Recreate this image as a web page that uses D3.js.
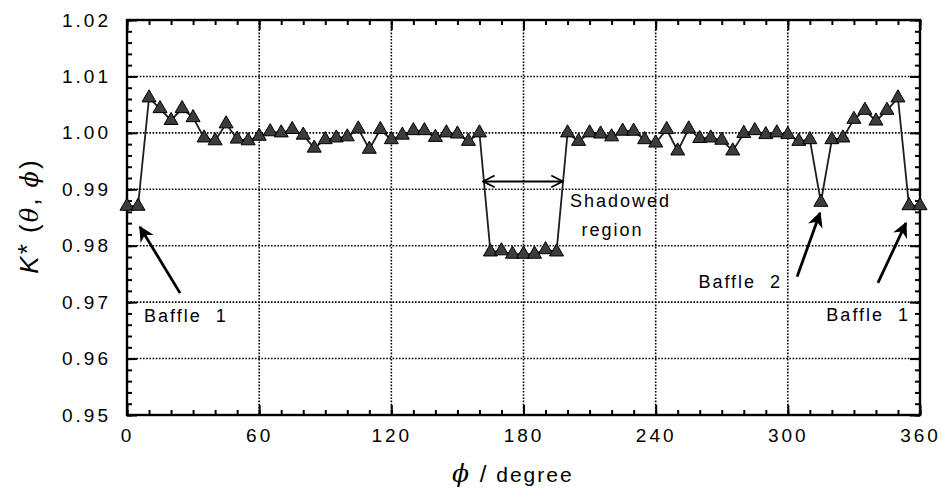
<!DOCTYPE html>
<html>
<head>
<meta charset="utf-8">
<script src="https://cdn.jsdelivr.net/npm/d3@7"></script>
<style>
  body { margin: 0; background: #fff; }
  svg { display: block; }
  text { font-family: "Liberation Sans", Arial, sans-serif; fill: #000; }
</style>
</head>
<body>
<div id="plot"></div>
<script>
// phi in degrees, measured every 5 degrees
var phi = d3.range(0, 361, 5);

// K*(theta, phi)
var kStar = [0.9870, 0.9870, 1.0062, 1.0043, 1.0022, 1.0043, 1.0027, 0.9991, 0.9986, 1.0016,
  0.9989, 0.9986, 0.9994, 1.0002, 1.0000, 1.0006, 0.9996, 0.9973, 0.9988, 0.9991,
  0.9993, 1.0007, 0.9971, 1.0006, 0.9988, 0.9996, 1.0004, 1.0004, 0.9992, 1.0000,
  0.9998, 0.9985, 1.0000, 0.9789, 0.9791, 0.9785, 0.9785, 0.9785, 0.9793, 0.9789,
  1.0000, 0.9985, 1.0000, 0.9998, 0.9993, 1.0003, 1.0003, 0.9988, 0.9982, 1.0006,
  0.9968, 1.0007, 0.9990, 0.9991, 0.9987, 0.9968, 0.9999, 1.0004, 0.9997, 1.0000,
  0.9997, 0.9985, 0.9988, 0.9877, 0.9988, 0.9991, 1.0024, 1.0040, 1.0021, 1.0040,
  1.0062, 0.9871, 0.9871];

var xTicks = [0, 60, 120, 180, 240, 300, 360];
var yTicks = [0.95, 0.96, 0.97, 0.98, 0.99, 1.00, 1.01, 1.02];
var xMinor = d3.range(0, 361, 10);
var yMinor = d3.range(0, 36).map(function(i) { return 0.95 + i * 0.002; });

// annotations in data units: [phi, value]
var arrows = [
  {from: [24.1, 0.9716], to: [5.9, 0.9833]},
  {from: [304.2, 0.9745], to: [314.6, 0.9858]},
  {from: [340.9, 0.9734], to: [353.6, 0.9840]}
];
var labels = [
  {text: "Baffle  1", at: [7.7, 0.9665], anchor: "start"},
  {text: "Baffle  2", at: [297.4, 0.9725], anchor: "end"},
  {text: "Baffle  1", at: [355.5, 0.9667], anchor: "end"},
  {text: "Shadowed", at: [201.1, 0.9869], anchor: "start"},
  {text: "region", at: [220.4, 0.9817], anchor: "middle"}
];
var shadowSpan = [161.6, 197.9, 0.9914];

var W = 941, H = 491;
var margin = {top: 20, right: 21, bottom: 76, left: 127},
    width = W - margin.left - margin.right,
    height = H - margin.top - margin.bottom;

var svg = d3.select("div#plot")
  .append("svg")
    .attr("width", W)
    .attr("height", H);

var defs = svg.append("defs");
defs.append("marker")
    .attr("id", "head")
    .attr("viewBox", "0 0 10 10")
    .attr("refX", 9).attr("refY", 5)
    .attr("markerWidth", 5.5).attr("markerHeight", 5.5)
    .attr("markerUnits", "strokeWidth")
    .attr("orient", "auto")
  .append("path")
    .attr("d", "M0,0 L10,5 L0,10 L3,5 Z")
    .attr("fill", "#000");
defs.append("marker")
    .attr("id", "open")
    .attr("viewBox", "0 0 12 12")
    .attr("refX", 11).attr("refY", 6)
    .attr("markerWidth", 7).attr("markerHeight", 7)
    .attr("markerUnits", "strokeWidth")
    .attr("orient", "auto-start-reverse")
  .append("path")
    .attr("d", "M1,1 L11,6 L1,11")
    .attr("fill", "none")
    .attr("stroke", "#000")
    .attr("stroke-width", 1.5);

var x = d3.scaleLinear().domain([0, 360]).range([margin.left, margin.left + width]);
var y = d3.scaleLinear().domain([0.95, 1.02]).range([margin.top + height, margin.top]);

// dotted grid
var grid = svg.append("g").attr("stroke", "#000").attr("stroke-width", 1.6)
  .attr("stroke-dasharray", "1.6,1.6");
grid.selectAll(".gx").data(xTicks.slice(1, -1)).enter().append("line")
  .attr("x1", function(d) { return x(d); }).attr("x2", function(d) { return x(d); })
  .attr("y1", y(0.95)).attr("y2", y(1.02));
grid.selectAll(".gy").data(yTicks.slice(1, -1)).enter().append("line")
  .attr("x1", x(0)).attr("x2", x(360))
  .attr("y1", function(d) { return y(d); }).attr("y2", function(d) { return y(d); });

// axes, ticks pointing inward
function styleAxis(g) {
  g.select(".domain").remove();
  g.selectAll(".tick line").attr("stroke", "#000").attr("stroke-width", 2);
  g.selectAll(".tick text")
    .style("font-size", "19px")
    .style("letter-spacing", "3px");
}

svg.append("g").attr("transform", "translate(0," + y(0.95) + ")")
  .call(d3.axisBottom(x).tickValues(xMinor).tickSize(-5).tickFormat(""))
  .call(styleAxis);
svg.append("g").attr("transform", "translate(0," + y(0.95) + ")")
  .call(d3.axisBottom(x).tickValues(xTicks).tickSize(-10).tickPadding(14).tickFormat(d3.format("d")))
  .call(styleAxis);
svg.append("g").attr("transform", "translate(0," + y(1.02) + ")")
  .call(d3.axisTop(x).tickValues(xMinor).tickSize(-5).tickFormat(""))
  .call(styleAxis);
svg.append("g").attr("transform", "translate(0," + y(1.02) + ")")
  .call(d3.axisTop(x).tickValues(xTicks).tickSize(-10).tickFormat(""))
  .call(styleAxis);

svg.append("g").attr("transform", "translate(" + x(0) + ",0)")
  .call(d3.axisLeft(y).tickValues(yMinor).tickSize(-5).tickFormat(""))
  .call(styleAxis);
svg.append("g").attr("transform", "translate(" + x(0) + ",0)")
  .call(d3.axisLeft(y).tickValues(yTicks).tickSize(-10).tickPadding(16).tickFormat(d3.format(".2f")))
  .call(styleAxis);
svg.append("g").attr("transform", "translate(" + x(360) + ",0)")
  .call(d3.axisRight(y).tickValues(yMinor).tickSize(-5).tickFormat(""))
  .call(styleAxis);
svg.append("g").attr("transform", "translate(" + x(360) + ",0)")
  .call(d3.axisRight(y).tickValues(yTicks).tickSize(-10).tickFormat(""))
  .call(styleAxis);

// frame
svg.append("rect")
  .attr("x", x(0)).attr("y", y(1.02))
  .attr("width", x(360) - x(0)).attr("height", y(0.95) - y(1.02))
  .attr("fill", "none").attr("stroke", "#000").attr("stroke-width", 2.4);

// data line and triangle markers
var data = phi.map(function(p, i) { return {phi: p, k: kStar[i]}; });

svg.append("path")
  .datum(data)
  .attr("fill", "none")
  .attr("stroke", "#1e1e1e")
  .attr("stroke-width", 1.8)
  .attr("d", d3.line()
    .x(function(d) { return x(d.phi); })
    .y(function(d) { return y(d.k); }));

svg.selectAll(".point")
  .data(data)
  .enter().append("path")
  .attr("class", "point")
  .attr("transform", function(d) { return "translate(" + x(d.phi) + "," + y(d.k) + ")"; })
  .attr("d", d3.symbol().type(d3.symbolTriangle).size(85))
  .attr("fill", "#3c3c3c")
  .attr("stroke", "#000")
  .attr("stroke-width", 1);

// annotations
svg.selectAll(".arrow")
  .data(arrows)
  .enter().append("line")
  .attr("class", "arrow")
  .attr("x1", function(d) { return x(d.from[0]); })
  .attr("y1", function(d) { return y(d.from[1]); })
  .attr("x2", function(d) { return x(d.to[0]); })
  .attr("y2", function(d) { return y(d.to[1]); })
  .attr("stroke", "#000")
  .attr("stroke-width", 2.8)
  .attr("marker-end", "url(#head)");

svg.append("line")
  .attr("x1", x(shadowSpan[0])).attr("x2", x(shadowSpan[1]))
  .attr("y1", y(shadowSpan[2])).attr("y2", y(shadowSpan[2]))
  .attr("stroke", "#000").attr("stroke-width", 2)
  .attr("marker-start", "url(#open)")
  .attr("marker-end", "url(#open)");

svg.selectAll(".note")
  .data(labels)
  .enter().append("text")
  .attr("class", "note")
  .attr("x", function(d) { return x(d.at[0]); })
  .attr("y", function(d) { return y(d.at[1]); })
  .attr("text-anchor", function(d) { return d.anchor; })
  .style("font-size", "18px")
  .style("letter-spacing", "2px")
  .style("white-space", "pre")
  .text(function(d) { return d.text; });

// axis titles
var xt = svg.append("text")
  .attr("x", 452).attr("y", 482)
  .style("font-size", "21px")
  .style("letter-spacing", "2px");
xt.append("tspan")
  .style("font-family", "'DejaVu Serif', serif")
  .style("font-style", "italic")
  .style("font-size", "25px")
  .text("\u03d5");
xt.append("tspan").style("white-space", "pre").style("font-size", "24px").text(" /");
xt.append("tspan").style("white-space", "pre").text(" degree");

var yt = svg.append("text")
  .attr("transform", "translate(38,216) rotate(-90)")
  .attr("text-anchor", "middle")
  .style("font-size", "26px")
  .style("letter-spacing", "2px")
  .style("white-space", "pre");
yt.append("tspan").style("font-style", "italic").text("K");
yt.append("tspan").attr("dy", -2).text("*");
yt.append("tspan").attr("dy", 2).text(" (");
yt.append("tspan").style("font-family", "'DejaVu Serif', serif").style("font-style", "italic").style("font-size", "24px").text("\u03b8");
yt.append("tspan").text(", ");
yt.append("tspan").style("font-family", "'DejaVu Serif', serif").style("font-style", "italic").style("font-size", "24px").text("\u03d5");
yt.append("tspan").text(")");
</script>
</body>
</html>
